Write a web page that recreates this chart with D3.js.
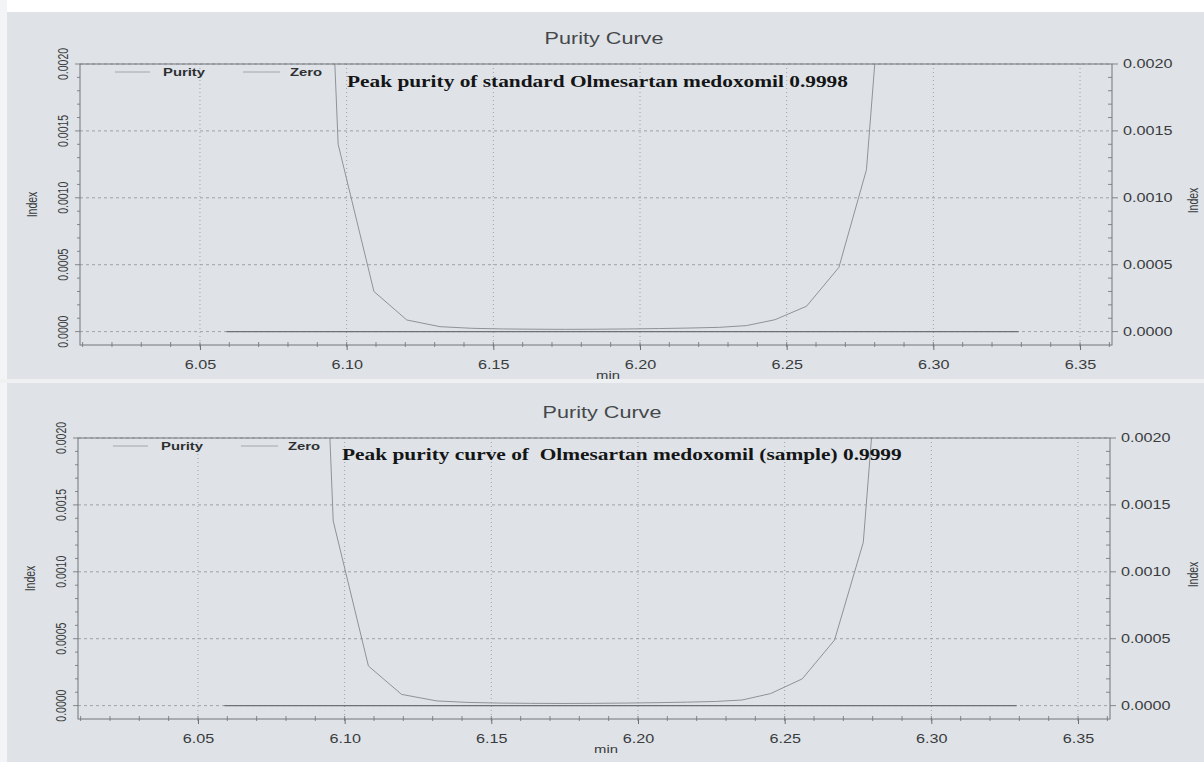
<!DOCTYPE html>
<html>
<head>
<meta charset="utf-8">
<script src="https://cdn.jsdelivr.net/npm/d3@7/dist/d3.min.js"></script>
<style>
  html, body { margin: 0; padding: 0; background: #ffffff; }
  svg { display: block; }
  text { font-family: Arial, "Liberation Sans", sans-serif; }
  text.note { font-family: "Liberation Serif", "Times New Roman", serif; font-weight: bold; white-space: pre; }
</style>
</head>
<body>
<svg id="chart" width="1204" height="762"></svg>
<script>
// ---- axis settings ----
const xTicks = [6.05, 6.10, 6.15, 6.20, 6.25, 6.30, 6.35];
const yTicks = [0.0000, 0.0005, 0.0010, 0.0015, 0.0020];
const xDomain = [6.0091, 6.3609];
const yDomain = [-0.0001, 0.0020];

// ---- standard: purity index vs retention time (min) ----
const stdTime   = [6.0864, 6.0971, 6.1093, 6.1205, 6.1318, 6.1425, 6.1532, 6.1639, 6.1746, 6.1853,
                   6.1960, 6.2067, 6.2174, 6.2270, 6.2363, 6.2460, 6.2568, 6.2678, 6.2772, 6.2879];
const stdPurity = [0.0071, 0.00140, 0.00030, 0.000087, 0.000037, 0.000025, 0.000020, 0.000018, 0.000017, 0.000018,
                   0.000020, 0.000023, 0.000027, 0.000032, 0.000045, 0.000089, 0.00019, 0.00048, 0.00121, 0.0042];

// ---- sample: purity index vs retention time (min) ----
const sampleTime   = [6.0855, 6.0961, 6.1081, 6.1194, 6.1314, 6.1420, 6.1527, 6.1634, 6.1741, 6.1848,
                      6.1955, 6.2062, 6.2169, 6.2264, 6.2355, 6.2452, 6.2560, 6.2670, 6.2768, 6.2875];
const samplePurity = [0.0072, 0.00138, 0.000296, 0.000084, 0.000035, 0.000024, 0.000019, 0.000017, 0.000016, 0.000017,
                      0.000019, 0.000022, 0.000026, 0.000031, 0.000042, 0.000090, 0.00020, 0.00049, 0.00122, 0.0042];

// ---- zero reference line ----
const zeroTime  = [6.059, 6.329];
const zeroValue = [0, 0];

const titles = ["Purity Curve", "Purity Curve"];
const notes = ["Peak purity of standard Olmesartan medoxomil 0.9998",
               "Peak purity curve of  Olmesartan medoxomil (sample) 0.9999"];
const legendNames = ["Purity", "Zero"];
const xAxisName = "min";
const yAxisName = "Index";

// ---- drawing ----
const SX = 1.35;           // horizontal stretch applied to text glyphs
const W = 1032, H = 281;
const svg = d3.select("#chart");

// paper background
svg.append("rect").attr("width", 1204).attr("height", 762).attr("fill", "#dfe3e7");
svg.append("rect").attr("width", 1204).attr("height", 12).attr("fill", "#ffffff");
svg.append("rect").attr("width", 7).attr("height", 762).attr("fill", "#f3f4f5");
svg.append("rect").attr("y", 379).attr("width", 1204).attr("height", 4).attr("fill", "#eef0f2");

const x = d3.scaleLinear().domain(xDomain).range([0, W]);
const y = d3.scaleLinear().domain(yDomain).range([H, 0]);

const panels = [
  { left: 80, top: 64,  time: stdTime,    purity: stdPurity,    title: titles[0], note: notes[0], noteWidth: 501, noteX: 267, noteY: 23 },
  { left: 78, top: 438, time: sampleTime, purity: samplePurity, title: titles[1], note: notes[1], noteWidth: 560, noteX: 264, noteY: 22 }
];

const line = d3.line().x(d => x(d[0])).y(d => y(d[1]));

panels.forEach((p, i) => {
  const g = svg.append("g").attr("transform", `translate(${p.left},${p.top})`);
  const clipId = "clip" + i;
  g.append("clipPath").attr("id", clipId).append("rect").attr("width", W).attr("height", H);

  // horizontal dashed grid
  g.append("g").selectAll("line").data(yTicks).join("line")
    .attr("x1", 0).attr("x2", W)
    .attr("y1", d => y(d)).attr("y2", d => y(d))
    .attr("stroke", "#8e9296").attr("stroke-width", 0.8).attr("stroke-dasharray", "3,3");

  // vertical dotted grid
  g.append("g").selectAll("line").data(xTicks).join("line")
    .attr("x1", d => x(d)).attr("x2", d => x(d))
    .attr("y1", 0).attr("y2", H)
    .attr("stroke", "#8e9296").attr("stroke-width", 0.8).attr("stroke-dasharray", "1,3");

  // bottom axis: major ticks + labels
  const xAxis = g.append("g").attr("transform", `translate(0,${H})`)
    .call(d3.axisBottom(x).tickValues(xTicks).tickFormat(d3.format(".2f"))
      .tickSize(5).tickSizeOuter(0).tickPadding(10.5));
  xAxis.select(".domain").remove();
  xAxis.selectAll("line").attr("stroke", "#6c7074");
  xAxis.selectAll("text").attr("transform", `scale(${SX},1)`)
    .attr("font-size", 12).attr("fill", "#3a3c3e");

  // bottom minor ticks
  const xMinor = d3.range(6.01, 6.3601, 0.01);
  g.append("g").selectAll("line").data(xMinor).join("line")
    .attr("x1", d => x(d)).attr("x2", d => x(d))
    .attr("y1", H - 3).attr("y2", H + 2)
    .attr("stroke", "#6c7074").attr("stroke-width", 0.8);

  // left axis ticks (major and minor)
  const yMinor = d3.range(0, 0.00201, 0.0001);
  g.append("g").selectAll("line").data(yMinor).join("line")
    .attr("x1", (d, k) => (k % 5 === 0 ? -5 : -3)).attr("x2", 0)
    .attr("y1", d => y(d)).attr("y2", d => y(d))
    .attr("stroke", "#6c7074").attr("stroke-width", 0.8);

  // right axis ticks: minor inside, major outside
  g.append("g").selectAll("line").data(yMinor).join("line")
    .attr("x1", (d, k) => (k % 5 === 0 ? W + 6 : W - 4)).attr("x2", W)
    .attr("y1", d => y(d)).attr("y2", d => y(d))
    .attr("stroke", "#6c7074").attr("stroke-width", 0.8);

  // left tick labels (rotated)
  g.append("g").selectAll("text").data(yTicks).join("text")
    .attr("transform", d => `translate(-12,${y(d)}) scale(${SX},1) rotate(-90)`)
    .attr("text-anchor", "middle").attr("font-size", 10.5).attr("fill", "#3a3c3e")
    .text(d => d3.format(".4f")(d));

  // right tick labels
  g.append("g").selectAll("text").data(yTicks).join("text")
    .attr("transform", d => `translate(${W + 11},${y(d) + 4}) scale(${SX},1)`)
    .attr("font-size", 12).attr("fill", "#3a3c3e")
    .text(d => d3.format(".4f")(d));

  // axis names
  g.append("text")
    .attr("transform", `translate(-43,${H / 2}) scale(${SX},1) rotate(-90)`)
    .attr("text-anchor", "middle").attr("font-size", 10.5).attr("fill", "#3a3c3e")
    .text(yAxisName);
  g.append("text")
    .attr("transform", `translate(${1198 - p.left},${H / 2 - 4}) scale(${SX},1) rotate(-90)`)
    .attr("text-anchor", "middle").attr("font-size", 10.5).attr("fill", "#3a3c3e")
    .text(yAxisName);
  g.append("text")
    .attr("transform", `translate(${W / 2 + 12},${H + 34}) scale(${SX},1)`)
    .attr("text-anchor", "middle").attr("font-size", 11).attr("fill", "#3a3c3e")
    .text(xAxisName);

  // title
  g.append("text")
    .attr("transform", `translate(${W / 2 + 8},${-20}) scale(${SX},1)`)
    .attr("text-anchor", "middle").attr("font-size", 16).attr("fill", "#45484b")
    .text(p.title);

  // zero reference line
  const plot = g.append("g").attr("clip-path", `url(#${clipId})`);
  plot.append("path")
    .datum(zeroTime.map((t, k) => [t, zeroValue[k]]))
    .attr("d", line).attr("fill", "none")
    .attr("stroke", "#6e7276").attr("stroke-width", 1.2);

  // purity curve
  plot.append("path")
    .datum(p.time.map((t, k) => [t, p.purity[k]]))
    .attr("d", line).attr("fill", "none")
    .attr("stroke", "#8f9397").attr("stroke-width", 1);

  // plot frame
  g.append("rect").attr("width", W).attr("height", H)
    .attr("fill", "none").attr("stroke", "#73777b").attr("stroke-width", 1);

  // legend
  const lg = g.append("g");
  lg.append("line").attr("x1", 35).attr("x2", 70).attr("y1", 8).attr("y2", 8)
    .attr("stroke", "#a3a7ab").attr("stroke-width", 1);
  lg.append("text").attr("transform", `translate(83,12) scale(${SX},1)`)
    .attr("font-size", 11).attr("font-weight", "bold").attr("fill", "#2e3032")
    .text(legendNames[0]);
  lg.append("line").attr("x1", 163).attr("x2", 200).attr("y1", 8).attr("y2", 8)
    .attr("stroke", "#a3a7ab").attr("stroke-width", 1);
  lg.append("text").attr("transform", `translate(210,12) scale(${SX},1)`)
    .attr("font-size", 11).attr("font-weight", "bold").attr("fill", "#2e3032")
    .text(legendNames[1]);

  // annotation, fitted to its printed width
  const note = g.append("text").attr("class", "note")
    .attr("font-size", 16).attr("fill", "#141516")
    .text(p.note);
  const len = note.node().getComputedTextLength();
  note.attr("transform", `translate(${p.noteX},${p.noteY}) scale(${p.noteWidth / len},1)`);
});
</script>
</body>
</html>
